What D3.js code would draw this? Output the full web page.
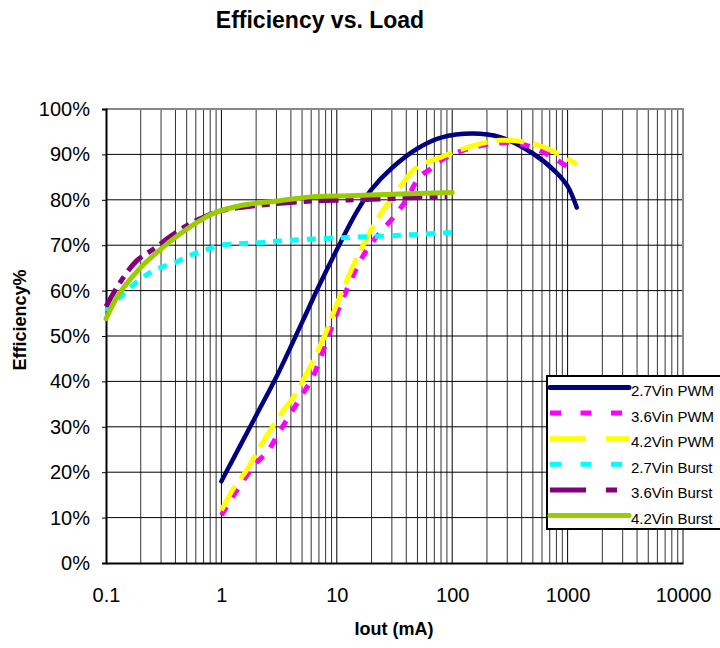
<!DOCTYPE html>
<html>
<head>
<meta charset="utf-8">
<script src="https://cdn.jsdelivr.net/npm/d3@7"></script>
<style>
  html, body { margin: 0; padding: 0; background: #fff; }
  svg { display: block; font-family: "Liberation Sans", Arial, sans-serif; }
</style>
</head>
<body>
<svg id="chart" width="720" height="648"></svg>
<script>
// values: [Iout mA, efficiency %]
const pwm27 = [[1, 18], [2, 32.5], [3, 41], [5, 53], [7, 61], [10, 69], [15, 77.5], [20, 82.3],
    [30, 87], [50, 91.3], [80, 93.7], [150, 94.6], [260, 93.8], [500, 90.2], [800, 86],
    [1000, 83], [1200, 78.3]];
const pwm36 = [[1, 10.5], [1.4, 16.5], [2, 22], [2.5, 24.5], [3.2, 29], [5, 37], [6.2, 41],
    [8.2, 49], [10, 55], [18, 68.8], [33, 77], [40, 80], [52, 85], [64, 86.7], [84, 89],
    [150, 91.5], [320, 92.6], [500, 91.5], [750, 89.3], [1120, 86.4]];
const pwm42 = [[1, 11.6], [1.3, 16.8], [1.65, 20.4], [2.16, 25.6], [2.64, 29.2], [3.45, 33.6],
    [4.2, 36.5], [6.25, 44.6], [8.2, 51.2], [10, 57], [16, 68.8], [24, 76.9], [35, 82.7],
    [49, 87.1], [78, 89.3], [134, 91.5], [260, 93.1], [580, 91.9], [1200, 87.8]];
const burst27 = [[0.1, 55.5], [0.2, 62.6], [0.28, 64.8], [0.4, 66.2], [0.53, 67.7], [0.7, 68.8],
    [1, 70], [2, 70.5], [4, 71.1], [10, 71.6], [30, 72.1], [100, 72.8]];
const burst36 = [[0.1, 56.5], [0.13, 61.5], [0.185, 66.6], [0.26, 69.2], [0.37, 72.1], [0.5, 74.3],
    [0.65, 75.8], [1, 77.6], [2, 78.7], [5, 79.6], [10, 79.9], [20, 80.1], [50, 80.5], [90, 80.7]];
const burst42 = [[0.1, 53.8], [0.13, 59.3], [0.2, 65.1], [0.3, 69.2], [0.44, 72.5], [0.65, 75.4],
    [0.85, 77], [1.45, 78.7], [3.2, 79.8], [6.25, 80.7], [13, 80.9], [30, 81.2], [100, 81.6]];

const seriesNames = ['2.7Vin PWM', '3.6Vin PWM', '4.2Vin PWM', '2.7Vin Burst', '3.6Vin Burst', '4.2Vin Burst'];
const seriesData = [pwm27, pwm36, pwm42, burst27, burst36, burst42];

const xTicks = [0.1, 1, 10, 100, 1000, 10000];
const xTickLabels = ['0.1', '1', '10', '100', '1000', '10000'];
const yTicks = [0, 10, 20, 30, 40, 50, 60, 70, 80, 90, 100];

// line looks, same order as the series
const styles = [
    { color: '#000080', width: 4.5, dash: null, legendDash: null, cap: 'round' },
    { color: '#ff00ff', width: 5, dash: '10,11', legendDash: '11,19.5', cap: 'butt' },
    { color: '#ffff00', width: 5, dash: '28,9', legendDash: '36,20', cap: 'butt' },
    { color: '#00ffff', width: 5, dash: '9,8', legendDash: '11,19.5', cap: 'butt' },
    { color: '#800080', width: 5, dash: '20,7,8,7', legendDash: '36,20,11,20', cap: 'butt' },
    { color: '#99cc00', width: 5, dash: null, legendDash: null, cap: 'round' }
];

const svg = d3.select('#chart');
const plot = { left: 106, right: 683, top: 109, bottom: 563 };

const x = d3.scaleLog().domain([0.1, 10000]).range([plot.left, plot.right]);
const y = d3.scaleLinear().domain([0, 100]).range([plot.bottom, plot.top]);

// vertical grid: every 1..9 of each decade
const minorX = [];
for (let e = -1; e < 4; e++) {
    for (let m = 1; m < 10; m++) minorX.push(m * Math.pow(10, e));
}
const grid = svg.append('g');
grid.selectAll('line.v')
    .data(minorX.filter(v => v > 0.1))
    .enter().append('line')
    .attr('class', 'v')
    .attr('x1', d => x(d)).attr('x2', d => x(d))
    .attr('y1', plot.top).attr('y2', plot.bottom)
    .attr('stroke', d => xTicks.includes(d) ? '#000' : '#333')
    .attr('stroke-width', 1);

grid.selectAll('line.h')
    .data(yTicks.filter(v => v > 0 && v < 100))
    .enter().append('line')
    .attr('class', 'h')
    .attr('x1', plot.left).attr('x2', plot.right)
    .attr('y1', d => y(d)).attr('y2', d => y(d))
    .attr('stroke', '#000')
    .attr('stroke-width', 1);

// top and right frame in gray
svg.append('path')
    .attr('d', `M${plot.left},${plot.top}H${plot.right}V${plot.bottom}`)
    .attr('fill', 'none')
    .attr('stroke', '#888')
    .attr('stroke-width', 2);

// axes
const xAxis = svg.append('g')
    .attr('transform', `translate(0,${plot.bottom})`)
    .call(d3.axisBottom(x).tickValues(xTicks).tickFormat((d, i) => xTickLabels[i]).tickSize(0).tickPadding(25));
xAxis.select('.domain').attr('stroke', '#000').attr('stroke-width', 2);
xAxis.selectAll('text').attr('font-size', 20).attr('fill', '#000').attr('font-family', null);

const yAxis = svg.append('g')
    .attr('transform', `translate(${plot.left},0)`)
    .call(d3.axisLeft(y).tickValues(yTicks).tickFormat(d => d + '%').tickSize(4).tickPadding(12));
yAxis.select('.domain').attr('stroke', '#000').attr('stroke-width', 2);
yAxis.selectAll('.tick line').attr('stroke', '#000');
yAxis.selectAll('text').attr('font-size', 20).attr('fill', '#000').attr('font-family', null);

// curves
const line = d3.line()
    .x(d => x(d[0]))
    .y(d => y(d[1]))
    .curve(d3.curveCatmullRom.alpha(0.5));

svg.append('g')
    .selectAll('path')
    .data(seriesData)
    .enter().append('path')
    .attr('d', d => line(d))
    .attr('fill', 'none')
    .attr('stroke', (d, i) => styles[i].color)
    .attr('stroke-width', (d, i) => styles[i].width)
    .attr('stroke-dasharray', (d, i) => styles[i].dash)
    .attr('stroke-linecap', (d, i) => styles[i].cap)
    .attr('stroke-linejoin', 'round');

// legend
const legend = svg.append('g');
legend.append('rect')
    .attr('x', 547).attr('y', 376)
    .attr('width', 180).attr('height', 153)
    .attr('fill', '#fff')
    .attr('stroke', '#000')
    .attr('stroke-width', 2);

const rowY = i => 387.5 + i * 25.6;
const item = legend.selectAll('g.item')
    .data(seriesNames)
    .enter().append('g')
    .attr('class', 'item');

item.append('line')
    .attr('x1', 550).attr('x2', 629)
    .attr('y1', (d, i) => rowY(i)).attr('y2', (d, i) => rowY(i))
    .attr('stroke', (d, i) => styles[i].color)
    .attr('stroke-width', 5)
    .attr('stroke-dasharray', (d, i) => styles[i].legendDash)
    .attr('stroke-linecap', (d, i) => styles[i].cap);

item.append('text')
    .attr('x', 631)
    .attr('y', (d, i) => rowY(i) + 8.5)
    .attr('font-size', 15)
    .text(d => d);

// titles
svg.append('text')
    .attr('x', 320).attr('y', 28)
    .attr('text-anchor', 'middle')
    .attr('font-size', 23)
    .attr('font-weight', 'bold')
    .text('Efficiency vs. Load');

svg.append('text')
    .attr('transform', 'translate(26,320) rotate(-90)')
    .attr('text-anchor', 'middle')
    .attr('font-size', 18)
    .attr('font-weight', 'bold')
    .text('Efficiency%');

svg.append('text')
    .attr('x', 394).attr('y', 635)
    .attr('text-anchor', 'middle')
    .attr('font-size', 18)
    .attr('font-weight', 'bold')
    .text('Iout (mA)');
</script>
</body>
</html>
